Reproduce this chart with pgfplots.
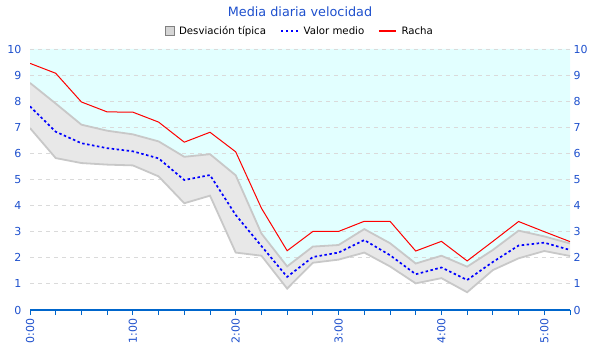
\documentclass[border=0pt]{standalone}
\usepackage{pgfplots}
\pgfplotsset{compat=1.18}
\usepackage{pgfplotstable}
\usepackage{fontspec}
\setmainfont{DejaVu Sans}
\definecolor{tickblue}{RGB}{30,80,205}
\definecolor{axblue}{RGB}{0,102,204}
\definecolor{cyanbg}{RGB}{226,255,255}
\definecolor{bandfill}{RGB}{232,232,232}
\definecolor{bandedge}{RGB}{200,200,200}
\definecolor{gridc}{RGB}{218,218,218}

\pgfplotstableread{
t    racha media sup  inf
0    9.45  7.80  8.70 6.97
0.25 9.07  6.83  7.91 5.82
0.5  7.97  6.39  7.10 5.63
0.75 7.59  6.20  6.87 5.57
1.0  7.58  6.08  6.73 5.54
1.25 7.20  5.81  6.46 5.12
1.5  6.43  4.98  5.87 4.09
1.75 6.81  5.17  5.97 4.38
2.0  6.06  3.64  5.16 2.20
2.25 3.90  2.45  2.93 2.08
2.5  2.27  1.27  1.67 0.82
2.75 3.01  2.03  2.43 1.81
3.0  3.01  2.20  2.49 1.93
3.25 3.40  2.68  3.10 2.20
3.5  3.40  2.10  2.56 1.67
3.75 2.26  1.37  1.78 1.02
4.0  2.63  1.63  2.08 1.22
4.25 1.88  1.15  1.66 0.68
4.5  2.63  1.84  2.30 1.53
4.75 3.39  2.47  3.04 1.98
5.0  3.00  2.58  2.82 2.26
5.25 2.62  2.30  2.55 2.07
}\datos

% band outline: upper edge forward, lower edge backward
\pgfplotstableread{
t    y
0    8.70
0.25 7.91
0.5  7.10
0.75 6.87
1.0  6.73
1.25 6.46
1.5  5.87
1.75 5.97
2.0  5.16
2.25 2.93
2.5  1.67
2.75 2.43
3.0  2.49
3.25 3.10
3.5  2.56
3.75 1.78
4.0  2.08
4.25 1.66
4.5  2.30
4.75 3.04
5.0  2.82
5.25 2.55
5.25 2.07
5.0  2.26
4.75 1.98
4.5  1.53
4.25 0.68
4.0  1.22
3.75 1.02
3.5  1.67
3.25 2.20
3.0  1.93
2.75 1.81
2.5  0.82
2.25 2.08
2.0  2.20
1.75 4.38
1.5  4.09
1.25 5.12
1.0  5.54
0.75 5.57
0.5  5.63
0.25 5.82
0    6.97
}\banda

% sky area: from the upper edge up to 10
\pgfplotstableread{
t    y
0    10
0    8.70
0.25 7.91
0.5  7.10
0.75 6.87
1.0  6.73
1.25 6.46
1.5  5.87
1.75 5.97
2.0  5.16
2.25 2.93
2.5  1.67
2.75 2.43
3.0  2.49
3.25 3.10
3.5  2.56
3.75 1.78
4.0  2.08
4.25 1.66
4.5  2.30
4.75 3.04
5.0  2.82
5.25 2.55
5.25 10
}\cielo

\begin{document}
\begin{tikzpicture}
\path[use as bounding box] (0,0) rectangle (600bp,360bp);
\begin{axis}[
  at={(30bp,50bp)}, anchor=south west,
  width=540bp, height=261bp, scale only axis,
  xmin=0, xmax=5.25, ymin=0, ymax=10,
  axis x line*=bottom, axis y line*=left,
  x axis line style={axblue, line width=1.2bp},
  y axis line style={draw=none},
  xtick={0,1,2,3,4,5},
  xticklabels={0:00,1:00,2:00,3:00,4:00,5:00},
  minor xtick={0.25,0.5,0.75,1.25,1.5,1.75,2.25,2.5,2.75,3.25,3.5,3.75,4.25,4.5,4.75,5.25},
  tick align=outside,
  major tick length=5bp, minor tick length=5bp,
  xtick style={axblue, line width=1bp},
  minor x tick style={axblue, line width=1bp},
  xticklabel style={rotate=90, anchor=east, color=tickblue, font=\fontsize{11bp}{13bp}\selectfont},
  ytick={0,1,...,10},
  ytick style={draw=none},
  yticklabel style={color=tickblue, font=\fontsize{11bp}{13bp}\selectfont},
  /pgf/number format/assume math mode=true,
  title={Media diaria velocidad},
  title style={at={(0.5,1.1187)}, anchor=center, color=tickblue, font=\fontsize{12.8bp}{15bp}\selectfont},
  legend columns=3,
  legend cell align=left,
  legend style={draw=none, fill=none, at={(0.5,1.069)}, anchor=center,
    font=\fontsize{10.2bp}{12bp}\selectfont,
    /tikz/every odd column/.append style={column sep=3bp},
    /tikz/every even column/.append style={column sep=12bp}},
]
\addlegendimage{only marks, mark=square*, mark options={fill=bandfill!92!black, draw=gray, line width=0.8bp}, mark size=4.5bp}
\addlegendentry{Desviación típica}
\addlegendimage{blue, line width=1.6bp, dash pattern=on 2.5bp off 2.5bp}
\addlegendentry{Valor medio}
\addlegendimage{red, line width=1.2bp}
\addlegendentry{Racha}

\addplot[fill=cyanbg, draw=none, forget plot] table[x=t, y=y] {\cielo};
\addplot[gridc, dash pattern=on 4bp off 4bp, line width=0.8bp, forget plot] coordinates {(0,1) (5.25,1)};
\addplot[gridc, dash pattern=on 4bp off 4bp, line width=0.8bp, forget plot] coordinates {(0,2) (5.25,2)};
\addplot[gridc, dash pattern=on 4bp off 4bp, line width=0.8bp, forget plot] coordinates {(0,3) (5.25,3)};
\addplot[gridc, dash pattern=on 4bp off 4bp, line width=0.8bp, forget plot] coordinates {(0,4) (5.25,4)};
\addplot[gridc, dash pattern=on 4bp off 4bp, line width=0.8bp, forget plot] coordinates {(0,5) (5.25,5)};
\addplot[gridc, dash pattern=on 4bp off 4bp, line width=0.8bp, forget plot] coordinates {(0,6) (5.25,6)};
\addplot[gridc, dash pattern=on 4bp off 4bp, line width=0.8bp, forget plot] coordinates {(0,7) (5.25,7)};
\addplot[gridc, dash pattern=on 4bp off 4bp, line width=0.8bp, forget plot] coordinates {(0,8) (5.25,8)};
\addplot[gridc, dash pattern=on 4bp off 4bp, line width=0.8bp, forget plot] coordinates {(0,9) (5.25,9)};
\addplot[gridc, dash pattern=on 4bp off 4bp, line width=0.8bp, forget plot] coordinates {(0,10) (5.25,10)};
\addplot[fill=bandfill, draw=none, forget plot] table[x=t, y=y] {\banda};
\addplot[draw=bandedge, line width=1.8bp, forget plot] table[x=t, y=sup] {\datos};
\addplot[draw=bandedge, line width=1.8bp, forget plot] table[x=t, y=inf] {\datos};
\addplot[red, line width=1bp, forget plot] table[x=t, y=racha] {\datos};
\addplot[blue, line width=1.7bp, dash pattern=on 2.5bp off 2.5bp, forget plot] table[x=t, y=media] {\datos};
\end{axis}
\begin{axis}[
  at={(30bp,50bp)}, anchor=south west,
  width=540bp, height=261bp, scale only axis,
  xmin=0, xmax=5.25, ymin=0, ymax=10,
  axis y line*=right, axis x line=none,
  y axis line style={draw=none},
  ytick={0,1,...,10},
  ytick style={draw=none},
  yticklabel style={color=tickblue, font=\fontsize{11bp}{13bp}\selectfont},
  /pgf/number format/assume math mode=true,
]
\addplot[draw=none] coordinates {(0,0) (5.25,10)};
\end{axis}
\end{tikzpicture}
\end{document}
